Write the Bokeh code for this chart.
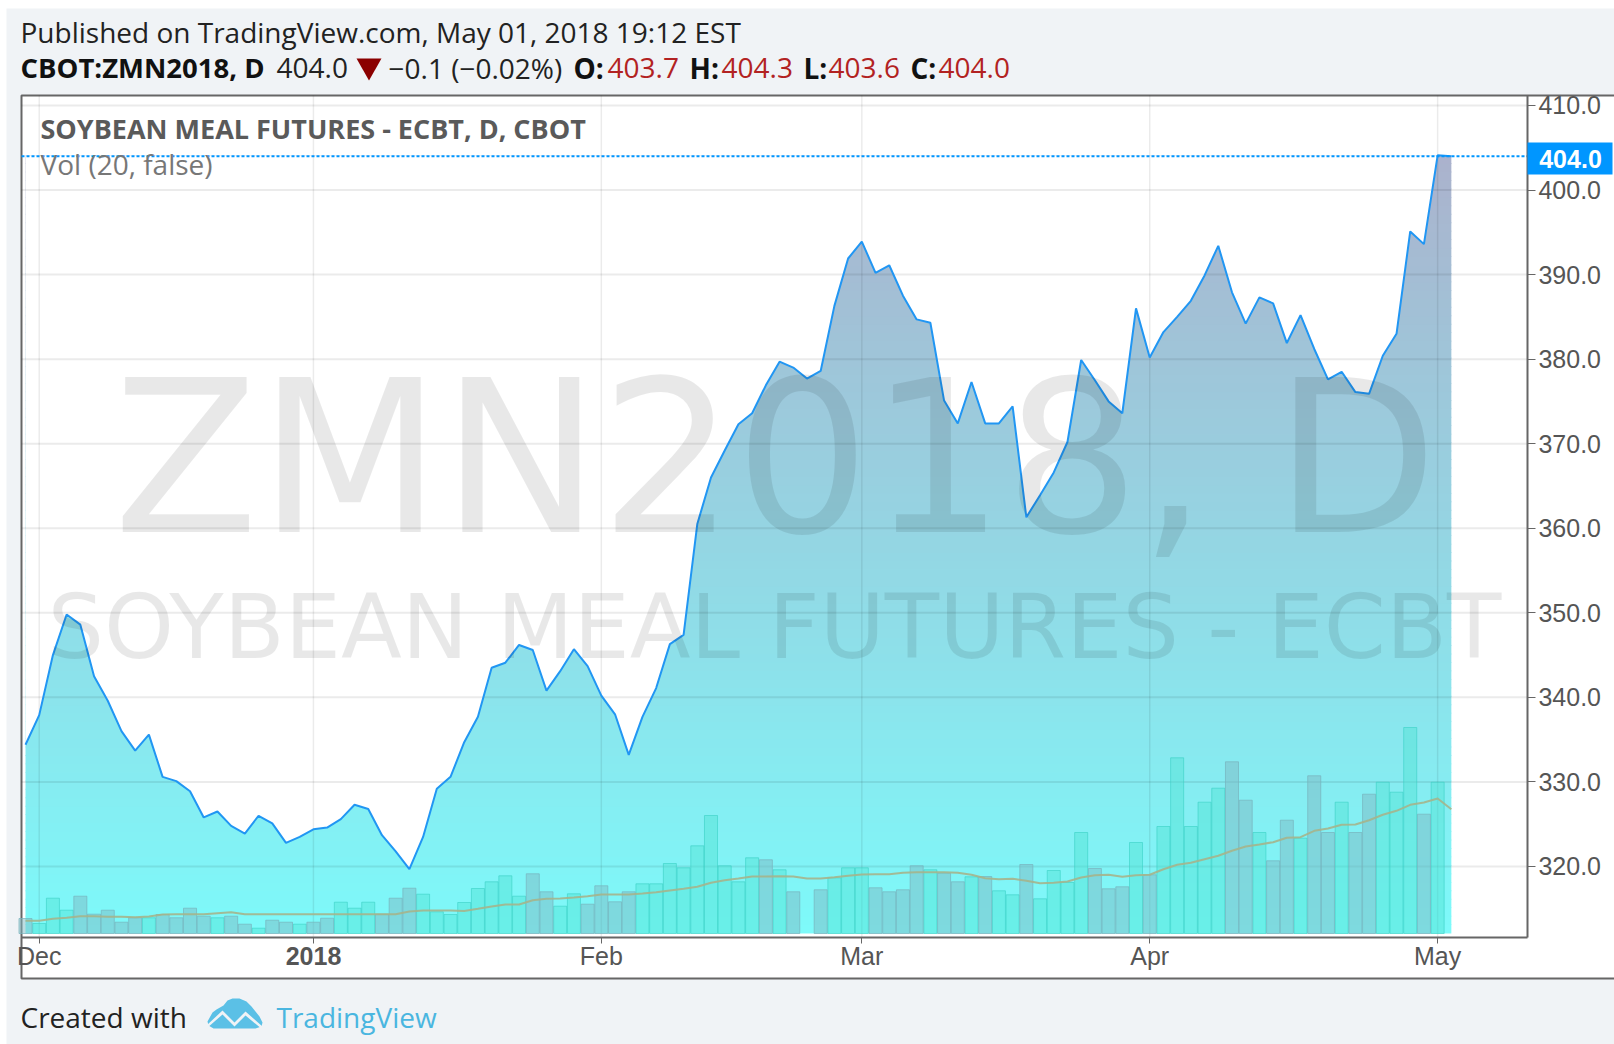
import numpy as np
from bokeh.embed import file_html
from bokeh.resources import INLINE
from bokeh.plotting import figure
from bokeh.models import (Range1d, FixedTicker, Label, BoxAnnotation,
                          PolyAnnotation, NumeralTickFormatter)

# ---------- data ----------
close = [334.4,337.9,345.0,349.8,348.6,342.5,339.6,336.0,333.7,335.6,330.6,330.1,328.9,325.8,326.5,
         324.8,323.9,326.0,325.1,322.8,323.5,324.4,324.6,325.6,327.3,326.8,323.7,321.8,319.7,323.5,
         329.2,330.6,334.7,337.7,343.5,344.1,346.2,345.6,340.8,343.1,345.7,343.7,340.2,338.0,333.2,
         337.7,341.1,346.3,347.4,360.5,366.0,369.2,372.3,373.6,376.9,379.7,379.0,377.7,378.6,386.3,
         391.9,393.9,390.2,391.1,387.5,384.7,384.3,375.1,372.4,377.3,372.4,372.4,374.4,361.3,363.9,
         366.6,370.2,379.9,377.5,375.0,373.6,386.0,380.2,383.2,385.0,386.9,389.9,393.4,387.9,384.2,
         387.3,386.6,381.9,385.2,381.2,377.6,378.5,376.1,375.9,380.4,383.0,395.1,393.6,404.1,404.0]
volume = [15,10,35.3,23.3,37.3,19.3,23.3,11.3,15.7,15.7,19,15.7,25.3,17.3,15.7,
          17.3,9.3,5.3,13.3,11.3,9.3,11.3,15.3,31.3,25.3,31.3,19.3,35.3,45.3,39.3,
          21.7,19,31,45,51.7,57.7,37.3,59.7,41.7,27.3,39.7,29.3,47.7,31.7,41.7,
          49.7,49.7,70,65.7,87.7,118,67.7,51.7,75.7,73.7,63.7,41.7,np.nan,43.7,55.7,
          65.7,65.7,45.7,41.7,43.7,67.7,63.7,60.3,51.7,56.7,57,42.7,38.7,69,34.7,
          63,51,101,65,44.7,46.7,91,58.7,107,175.7,107,131.3,145.3,171.7,133.3,
          101,72.7,113.3,95.3,157.7,101,131.3,101,139.3,151.3,141.3,206,119.3,151.3,np.nan]
vol_down = [1,0,0,0,1,1,1,1,1,0,1,1,1,1,0,
            1,1,0,1,1,0,1,1,0,0,0,1,1,1,0,
            0,0,0,0,0,0,0,1,1,0,0,1,1,1,1,
            0,0,0,0,0,0,0,0,0,1,0,1,0,1,0,
            0,0,1,1,1,1,0,1,1,0,1,0,0,1,0,
            0,0,0,1,1,1,0,1,0,0,0,0,0,1,1,
            0,1,1,0,1,1,0,1,1,0,0,0,1,0,0]
vol_ma = [12.7,12.7,14.7,15.7,17.3,17.3,16.7,16.7,16.3,17,19,19.3,19.3,19.3,20.3,
          21.3,19.3,19.3,19.3,19.3,19.3,19.3,19.3,19.3,19.3,19.3,19.3,19.3,22,23,
          23,23,22.5,24.7,27,29,29,33.3,34.7,35,36,37.3,39,39,39,
          40,41.3,43,44.7,46.7,50.7,53.3,55,57,57,57.3,57,55,55,56.3,
          57.7,59,59.3,59.3,60.7,61.3,61.3,61.3,60.7,58.7,55.3,54.3,54.7,52.7,50.3,
          50.7,52,56,58.3,58.7,56.7,58.3,58.7,64.3,68.7,70.7,74.3,77.7,82.7,87,
          89,91.3,95.7,96.3,102.7,105,108.7,109,113.3,118.7,122.7,128.7,131,135,124.3]
price_ticks = [320,330,340,350,360,370,380,390,400,410]
date_ticks = {1:"Dec", 21:"", 42:"Feb", 61:"Mar", 82:"Apr", 103:"May"}
last_price = 404.0
area_floor = 312.08
pane_x = (-0.292, 109.55)
pane_y = (311.6, 411.18)

BG = "#f0f3f6"
GRAY = "#555555"
EDGE = "#666666"
UI = "Open Sans"
idx = np.arange(len(close))

# the frame fills the page; the axes are pinned to the pane's edges
p = figure(width=1614, height=1044, output_backend="svg", toolbar_location=None,
           x_range=Range1d(-1.8235, 115.9), y_range=Range1d(298.95, 422.41),
           y_axis_location="right", min_border=0,
           background_fill_color="white", border_fill_color="white", outline_line_color=None)
p.extra_y_ranges = {"vol": Range1d(-111, 933)}


def box(l, r, t, b, fill, line=None, width=1, level="underlay"):
    p.add_layout(BoxAnnotation(left=l, right=r, top=t, bottom=b, left_units="canvas", right_units="canvas",
                               top_units="canvas", bottom_units="canvas", fill_color=fill, fill_alpha=1,
                               line_color=line, line_width=width, line_alpha=1, level=level))


box(6, 1614, 8, 1044, BG)
box(21, 1640, 95, 978, "white", EDGE, 2)

ax = p.yaxis[0]
ax.fixed_location = pane_x[1]
ax.bounds = pane_y
ax.ticker = FixedTicker(ticks=price_ticks)
ax.formatter = NumeralTickFormatter(format="0.0")
ax.major_label_text_font = "Liberation Sans"
ax.major_label_text_font_size = "25px"
ax.major_label_text_color = GRAY
ax.axis_line_color = EDGE; ax.axis_line_width = 2
ax.major_tick_line_color = EDGE; ax.major_tick_out = 8; ax.major_tick_in = 0
ax.minor_tick_line_color = None
ax.major_label_standoff = 3
bx = p.xaxis[0]
bx.fixed_location = pane_y[0]
bx.bounds = pane_x
bx.ticker = FixedTicker(ticks=list(date_ticks))
bx.major_label_overrides = date_ticks
bx.major_label_text_font = "Liberation Sans"
bx.major_label_text_font_size = "25px"
bx.major_label_text_color = GRAY
bx.axis_line_color = EDGE; bx.axis_line_width = 2
bx.major_tick_line_color = EDGE; bx.major_tick_out = 6; bx.major_tick_in = 0
bx.minor_tick_line_color = None
bx.major_label_standoff = -2
p.grid.visible = False

# area: gradient bands under a white mask that follows the close
top_rgb = np.array([172, 178, 205]); bot_rgb = np.array([126, 250, 250])
levels = np.arange(area_floor, max(close), 1.0)
cols = []
for l in levels:
    t = (l - area_floor) / (max(close) - area_floor)
    c = (top_rgb * t + bot_rgb * (1 - t)).astype(int)
    cols.append("#%02x%02x%02x" % tuple(c))
p.quad(left=idx[0], right=idx[-1], bottom=levels, top=np.minimum(levels + 1.1, max(close)), color=cols, line_color=None)
p.varea(x=idx, y1=close, y2=[max(close)] * len(close), fill_color="white", fill_alpha=1)

# grid, over the mask so that it shows on both sides of the line
xt = list(date_ticks)
p.segment(x0=xt, x1=xt, y0=[pane_y[0]] * len(xt), y1=[pane_y[1]] * len(xt), line_color="black", line_alpha=0.08, line_width=1.5)
p.segment(x0=[pane_x[0]] * len(price_ticks), x1=[pane_x[1]] * len(price_ticks), y0=price_ticks, y1=price_ticks,
          line_color="black", line_alpha=0.08, line_width=2)

# volume
vt = [v if not d else np.nan for v, d in zip(volume, vol_down)]
vg = [v if d else np.nan for v, d in zip(volume, vol_down)]
p.vbar(x=idx, top=vt, bottom=0, width=0.95, y_range_name="vol", fill_color="#4fe2d2", fill_alpha=0.45,
       line_color="#3ad0c4", line_alpha=0.6)
p.vbar(x=idx, top=vg, bottom=0, width=0.95, y_range_name="vol", fill_color="#7db9c3", fill_alpha=0.5,
       line_color="#78b4be", line_alpha=0.7)
p.line(idx, vol_ma, y_range_name="vol", line_color="#a5b48c", line_width=2, line_alpha=0.9)

# price line and last price level
p.line(idx, close, line_color="#2196f3", line_width=2)
p.line(list(pane_x), [last_price, last_price], line_color="#0096ff", line_width=2, line_dash="3 2")


def txt(s, x, y, size, color="#222222", font=UI, style="normal", align="left", alpha=1.0, level="annotation"):
    p.add_layout(Label(x=x, y=y, x_units="canvas", y_units="canvas", text=s, text_font=font,
                       text_font_size=f"{size}px", text_color=color, text_font_style=style,
                       text_align=align, text_baseline="middle", text_alpha=alpha, level=level))


# watermarks
txt("ZMN2018, D", 775, 458, 212, color="black", font="DejaVu Sans", align="center", alpha=0.09)
txt("SOYBEAN MEAL FUTURES - ECBT", 774, 626, 89, color="black", font="DejaVu Sans", align="center", alpha=0.09)

# legend inside the pane
txt("SOYBEAN MEAL FUTURES - ECBT, D, CBOT", 40, 128, 27, color="#5a5a5a", style="bold")
txt("Vol (20, false)", 40, 163, 28, color="#777777")

# header
txt("Published on TradingView.com, May 01, 2018 19:12 EST", 20, 31, 28)
txt("CBOT:ZMN2018, D", 20, 67, 27.5, color="#111111", style="bold")
txt("404.0", 276, 67, 28)
txt("\u22120.1 (\u22120.02%)", 388, 67, 28)
RED = "#b22222"
for s, xl, xv, val in [("O:", 573, 607, "403.7"), ("H:", 689, 721, "404.3"),
                       ("L:", 803, 828, "403.6"), ("C:", 910, 938, "404.0")]:
    txt(s, xl, 67, 28, color="#111111", style="bold")
    txt(val, xv, 67, 28, color=RED)
p.add_layout(PolyAnnotation(xs=[356, 381, 368.5], ys=[58, 58, 80], xs_units="canvas", ys_units="canvas",
                            fill_color="#8b0000", fill_alpha=1, line_color=None))

# bold year label on the date axis
txt("2018", 313, 955, 25, color=GRAY, font="Liberation Sans", style="bold", align="center")

# last price tag
box(1527, 1612, 142, 174, "#0096ff", level="overlay")
txt("404.0", 1570, 158, 25, color="white", font="Liberation Sans", style="bold", align="center", level="overlay")

# footer
txt("Created with", 20, 1016, 28)
txt("TradingView", 276, 1016, 28, color="#4ab6e0")
cloud_x = [207, 212, 216, 223, 227, 232, 239, 246, 251, 255, 259, 262, 261, 255, 213, 208]
cloud_y = [1021, 1012, 1009, 1005, 1000, 998, 998, 1001, 1006, 1011, 1016, 1022, 1026, 1028, 1028, 1025]
p.add_layout(PolyAnnotation(xs=cloud_x, ys=cloud_y, xs_units="canvas", ys_units="canvas",
                            fill_color="#5bc0e6", fill_alpha=1, line_color=None))
zig_x = [206, 222, 234, 245, 262, 262, 245, 234, 222, 206]
zig_y = [1025, 1010, 1022, 1011, 1026, 1029, 1015, 1026, 1014, 1028]
p.add_layout(PolyAnnotation(xs=zig_x, ys=zig_y, xs_units="canvas", ys_units="canvas",
                            fill_color=BG, fill_alpha=1, line_color=None))

open("out.html", "w").write(file_html(p, INLINE))
